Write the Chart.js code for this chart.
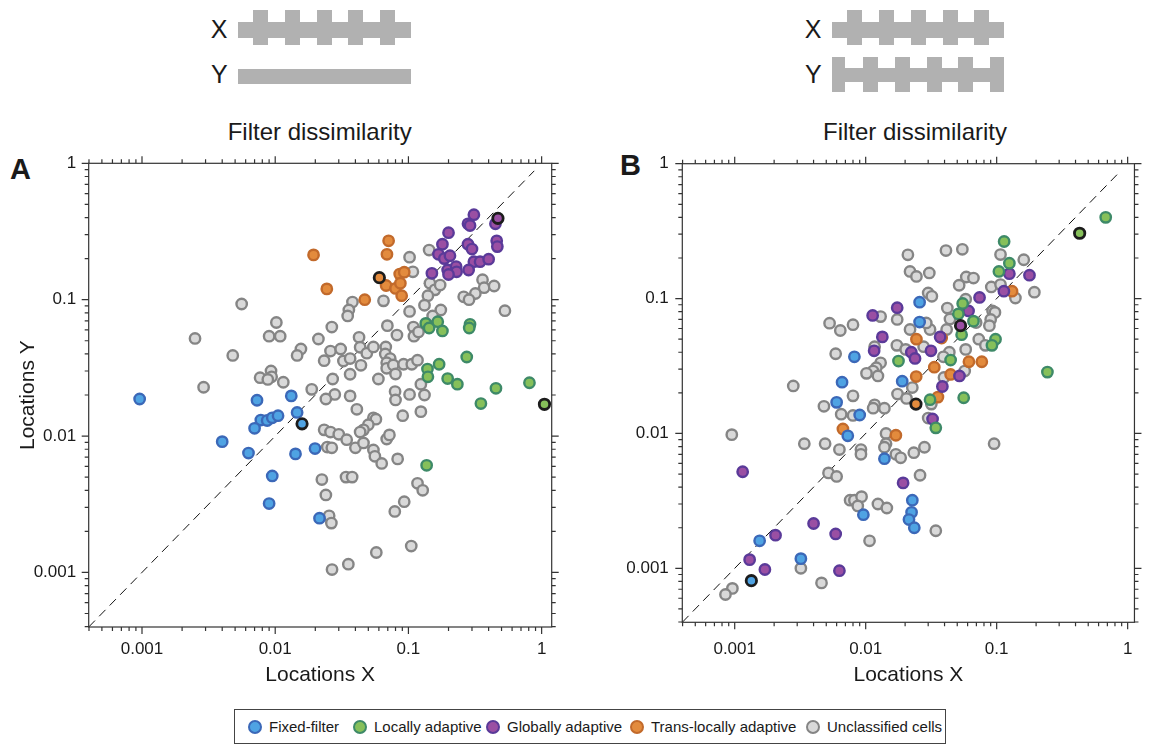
<!DOCTYPE html>
<html><head><meta charset="utf-8">
<script src="https://cdn.jsdelivr.net/npm/chart.js@4.4.1/dist/chart.umd.min.js"></script>
<style>
html,body{margin:0;padding:0;background:#fff;}
body{width:1149px;height:745px;position:relative;overflow:hidden;font-family:"Liberation Sans",Arial,Helvetica,sans-serif;color:#1a1a1a;}
.g{position:absolute;background:#b1b1b1;}
.lbl{position:absolute;font-size:25px;line-height:25px;}
.ttl{position:absolute;font-size:24px;line-height:24px;white-space:nowrap;transform:translateX(-50%);}
.pan{position:absolute;font-size:29px;line-height:29px;font-weight:bold;}
canvas{position:absolute;}
#legend{position:absolute;left:234px;top:709px;width:712px;height:35px;border:1px solid #444;box-sizing:border-box;}
.li{position:absolute;top:0;height:33px;display:flex;align-items:center;font-size:15px;white-space:nowrap;color:#1a1a1a;}
.dot{width:10px;height:10px;border-radius:50%;border:2px solid;margin-right:7px;}
</style></head>
<body>
<!-- schematic A -->
<div class="lbl" style="left:210.7px;top:17.3px;">X</div>
<div class="g" style="left:238px;top:22px;width:173px;height:15.5px;"></div>
<div class="g" style="left:253.3px;top:10px;width:15px;height:35px;"></div>
<div class="g" style="left:285px;top:10px;width:15px;height:35px;"></div>
<div class="g" style="left:316.7px;top:10px;width:15px;height:35px;"></div>
<div class="g" style="left:348.3px;top:10px;width:15px;height:35px;"></div>
<div class="g" style="left:380px;top:10px;width:15px;height:35px;"></div>
<div class="lbl" style="left:211px;top:62.1px;">Y</div>
<div class="g" style="left:238px;top:69px;width:173px;height:14.5px;"></div>
<div class="ttl" style="left:319.7px;top:120.2px;">Filter dissimilarity</div>
<div class="pan" style="left:10px;top:154.5px;">A</div>
<!-- schematic B -->
<div class="lbl" style="left:804.7px;top:17.3px;">X</div>
<div class="g" style="left:831.7px;top:22px;width:172.6px;height:15.5px;"></div>
<div class="g" style="left:847.3px;top:9.5px;width:15px;height:35px;"></div>
<div class="g" style="left:879.3px;top:9.5px;width:15px;height:35px;"></div>
<div class="g" style="left:911px;top:9.5px;width:15px;height:35px;"></div>
<div class="g" style="left:942.7px;top:9.5px;width:15px;height:35px;"></div>
<div class="g" style="left:974.3px;top:9.5px;width:15px;height:35px;"></div>
<div class="lbl" style="left:805px;top:62.1px;">Y</div>
<div class="g" style="left:831.7px;top:67.7px;width:172.6px;height:14px;"></div>
<div class="g" style="left:831.7px;top:57.3px;width:13.5px;height:35px;"></div>
<div class="g" style="left:862.7px;top:57.3px;width:15px;height:35px;"></div>
<div class="g" style="left:895px;top:57.3px;width:15px;height:35px;"></div>
<div class="g" style="left:926.7px;top:57.3px;width:15px;height:35px;"></div>
<div class="g" style="left:958.3px;top:57.3px;width:15px;height:35px;"></div>
<div class="g" style="left:990px;top:57.3px;width:14.3px;height:35px;"></div>
<div class="ttl" style="left:915px;top:120.2px;">Filter dissimilarity</div>
<div class="pan" style="left:620px;top:151px;">B</div>

<canvas id="chartA" width="580" height="560" style="left:0px;top:140px;width:580px;height:560px;"></canvas>
<canvas id="chartB" width="559" height="560" style="left:590px;top:140px;width:559px;height:560px;"></canvas>
<div id="legend"></div>

<script>
// ---------- categories & styles ----------
const categories = ['Fixed-filter', 'Locally adaptive', 'Globally adaptive', 'Trans-locally adaptive', 'Unclassified cells'];
const fillColors = ['#4fa3e3', '#86c05a', '#9a4fa3', '#e38b3d', '#d9d9d9'];
const edgeColors = ['#3b68b8', '#3e8a68', '#5a3a99', '#c26a2b', '#858585'];

// ---------- tick labels ----------
const xTickValues = [0.001, 0.01, 0.1, 1];
const xTickLabels = ['0.001', '0.01', '0.1', '1'];
const yTickValues = [0.001, 0.01, 0.1, 1];
const yTickLabels = ['0.001', '0.01', '0.1', '1'];

// ---------- panel A data [Locations X, Locations Y] ----------
const A_fixed = [[0.00096,0.0187],[0.0073,0.0183],[0.0132,0.0197],[0.0146,0.0149],[0.0078,0.0131],[0.0087,0.013],[0.0095,0.0136],[0.0105,0.0141],[0.007,0.0114],[0.0040,0.0091],[0.0063,0.0075],[0.0142,0.0074],[0.0199,0.0081],[0.0095,0.0051],[0.009,0.0032],[0.0215,0.0025]];
const A_local = [[0.135,0.067],[0.143,0.062],[0.166,0.069],[0.18,0.059],[0.29,0.066],[0.286,0.062],[0.274,0.038],[0.17,0.0336],[0.139,0.031],[0.14,0.0272],[0.197,0.0264],[0.233,0.024],[0.454,0.0224],[0.81,0.0246],[0.35,0.0173],[0.137,0.0061]];
const A_global = [[0.31,0.42],[0.28,0.36],[0.29,0.35],[0.45,0.36],[0.20,0.31],[0.18,0.255],[0.28,0.255],[0.30,0.235],[0.46,0.27],[0.465,0.245],[0.168,0.215],[0.186,0.20],[0.205,0.21],[0.31,0.19],[0.345,0.19],[0.40,0.198],[0.197,0.165],[0.228,0.175],[0.23,0.16],[0.20,0.153],[0.283,0.165],[0.15,0.156]];
const A_trans = [[0.0194,0.213],[0.071,0.27],[0.069,0.215],[0.0244,0.12],[0.086,0.154],[0.093,0.159],[0.068,0.127],[0.08,0.121],[0.087,0.132],[0.089,0.107],[0.047,0.10]];
const A_unclassified = [[0.0056,0.093],[0.0025,0.052],[0.0048,0.039],[0.0102,0.068],[0.009,0.054],[0.0109,0.054],[0.0156,0.0435],[0.0146,0.039],[0.0211,0.0515],[0.0077,0.0268],[0.0093,0.030],[0.0094,0.0272],[0.0088,0.026],[0.0115,0.0248],[0.0029,0.0228],[0.0188,0.022],
[0.102,0.205],[0.143,0.231],[0.108,0.16],[0.145,0.132],[0.158,0.118],[0.173,0.128],[0.14,0.107],[0.132,0.091],[0.175,0.084],[0.152,0.076],[0.36,0.14],[0.37,0.1225],[0.44,0.126],[0.318,0.111],[0.26,0.105],[0.285,0.10],[0.53,0.083],[0.065,0.098],[0.102,0.082],[0.038,0.096],[0.0357,0.084],[0.035,0.076],[0.0266,0.063],
[0.0426,0.053],[0.0434,0.0448],[0.0487,0.0405],[0.0546,0.045],[0.0695,0.0645],[0.082,0.055],[0.109,0.063],[0.110,0.054],[0.119,0.058],[0.026,0.042],[0.031,0.0435],[0.0233,0.0357],[0.0325,0.0355],[0.0365,0.037],[0.044,0.033],[0.0365,0.0284],[0.027,0.0262],[0.0595,0.0262],[0.0676,0.045],[0.067,0.040],[0.073,0.037],[0.0687,0.0345],[0.0687,0.0314],[0.077,0.0332],[0.080,0.0285],[0.092,0.0336],[0.106,0.0336],[0.117,0.036],[0.124,0.024],[0.132,0.020],[0.102,0.0202],[0.0794,0.0212],[0.080,0.0184],[0.028,0.0202],[0.024,0.0187],[0.0365,0.0197],[0.041,0.0157],[0.0906,0.0141],[0.124,0.0151],[0.0546,0.0136],[0.057,0.0133],[0.050,0.0121],[0.046,0.0111],[0.0434,0.0107],[0.0233,0.0111],[0.026,0.0107],[0.030,0.0103],[0.0344,0.0094],[0.040,0.0082],[0.046,0.0089],[0.0246,0.0083],[0.0266,0.0082],[0.0546,0.0079],[0.056,0.0071],[0.063,0.0063],[0.0687,0.0095],[0.072,0.0102],[0.083,0.0068],[0.0224,0.0048],[0.024,0.0037],[0.034,0.0050],[0.0378,0.0050],[0.117,0.0045],[0.128,0.0040],[0.093,0.0033],[0.079,0.0028],[0.0254,0.0026],[0.0264,0.0023],[0.0574,0.0014],[0.105,0.00156],[0.0354,0.00115],[0.0267,0.00105]];
// highlighted example cells: [x, y, category index]
const A_examples = [[0.0159,0.0123,0],[1.05,0.0171,1],[0.47,0.395,2],[0.0605,0.145,3]];

// ---------- panel B data ----------
const B_fixed = [[0.0258,0.094],[0.0258,0.067],[0.0082,0.037],[0.0066,0.024],[0.019,0.0244],[0.006,0.017],[0.009,0.0137],[0.0073,0.0096],[0.0139,0.0065],[0.0227,0.0032],[0.0224,0.0026],[0.0214,0.0023],[0.0235,0.0020],[0.0096,0.0025],[0.00155,0.0016],[0.0032,0.00118]];
const B_local = [[0.68,0.40],[0.114,0.265],[0.125,0.183],[0.104,0.159],[0.055,0.092],[0.051,0.077],[0.0665,0.068],[0.054,0.054],[0.098,0.050],[0.092,0.045],[0.0445,0.035],[0.0178,0.0344],[0.244,0.0285],[0.056,0.0184],[0.031,0.0178],[0.0343,0.011]];
const B_global = [[0.125,0.153],[0.178,0.149],[0.1135,0.1135],[0.074,0.102],[0.061,0.081],[0.0174,0.0856],[0.0113,0.075],[0.0134,0.052],[0.037,0.052],[0.0116,0.041],[0.0223,0.040],[0.0238,0.036],[0.0315,0.041],[0.052,0.0267],[0.0385,0.0223],[0.0324,0.0128],[0.00115,0.0052],[0.0193,0.0043],[0.0040,0.00215],[0.0059,0.0018],[0.00205,0.00176],[0.0013,0.00116],[0.0017,0.00098],[0.0063,0.00096]];
const B_trans = [[0.131,0.1135],[0.0244,0.050],[0.038,0.051],[0.0614,0.034],[0.077,0.034],[0.0334,0.031],[0.0243,0.0264],[0.0445,0.0274],[0.0356,0.0186],[0.0067,0.0108],[0.017,0.0097]];
const B_unclassified = [[0.021,0.211],[0.041,0.227],[0.0547,0.232],[0.107,0.212],[0.161,0.194],[0.0218,0.159],[0.0244,0.146],[0.0306,0.155],[0.0586,0.1445],[0.0665,0.142],[0.0517,0.1255],[0.091,0.122],[0.107,0.127],[0.139,0.101],[0.194,0.1115],[0.030,0.110],[0.032,0.104],[0.058,0.099],[0.042,0.085],[0.044,0.0706],[0.093,0.081],[0.097,0.079],[0.090,0.070],[0.088,0.063],[0.0697,0.0664],[0.013,0.0735],[0.0174,0.070],[0.0053,0.0657],[0.0064,0.058],[0.008,0.064],[0.0218,0.059],[0.031,0.059],[0.029,0.066],[0.0415,0.059],[0.073,0.050],[0.082,0.045],[0.058,0.042],[0.0173,0.045],[0.0117,0.044],[0.0202,0.042],[0.0277,0.044],[0.0435,0.040],[0.0059,0.039],[0.013,0.0334],[0.01205,0.0307],[0.01138,0.029],[0.01014,0.0279],[0.0124,0.0267],[0.0392,0.037],[0.057,0.029],[0.0396,0.026],[0.0028,0.0225],[0.0080,0.019],[0.0175,0.0196],[0.0205,0.0182],[0.0227,0.0219],[0.0317,0.0165],[0.0048,0.0159],[0.0065,0.0139],[0.008,0.0136],[0.0117,0.0163],[0.0114,0.0154],[0.0139,0.0154],[0.030,0.013],[0.00095,0.0098],[0.0034,0.0084],[0.0049,0.0084],[0.0956,0.0084],[0.0143,0.0100],[0.0063,0.0076],[0.0092,0.0076],[0.0092,0.0070],[0.0143,0.0084],[0.0139,0.0079],[0.017,0.0070],[0.0185,0.0066],[0.0233,0.0072],[0.0281,0.0079],[0.0052,0.0051],[0.0060,0.0048],[0.026,0.0049],[0.0076,0.0032],[0.0082,0.0032],[0.0093,0.0034],[0.0087,0.0029],[0.0124,0.0030],[0.0145,0.0028],[0.0343,0.0019],[0.0107,0.0016],[0.0032,0.0010],[0.0046,0.00078],[0.00096,0.00071],[0.00085,0.00064]];
const B_examples = [[0.00134,0.00081,0],[0.43,0.305,1],[0.053,0.063,2],[0.0242,0.0165,3]];

// ---------- axis ranges & identity line ----------
const A_xRange = [0.000398, 1.19];
const A_yRange = [0.000398, 1];
const B_xRange = [0.000398, 1.127];
const B_yRange = [0.000398, 1];
const A_diagonal = [[0.000398,0.000398],[0.88,0.88]];
const B_diagonal = [[0.000398,0.000398],[0.87,0.87]];

Chart.defaults.font.family = '"Liberation Sans", Arial, Helvetica, sans-serif';
Chart.defaults.color = '#1a1a1a';

const frameTicks = {
  id: 'frameTicks',
  afterDraw(chart) {
    const {ctx, chartArea: a, scales: {x, y}} = chart;
    ctx.save();
    ctx.strokeStyle = '#333';
    ctx.lineWidth = 1.2;
    ctx.strokeRect(a.left, a.top, a.right - a.left, a.bottom - a.top);
    ctx.beginPath();
    for (let e = -4; e <= 0; e++) {
      for (let m = 1; m <= 9; m++) {
        const v = m * Math.pow(10, e);
        const L = m === 1 ? 7 : 4;
        if (v >= x.min * 0.999 && v <= x.max * 1.0001) {
          const p = x.getPixelForValue(v);
          ctx.moveTo(p, a.top); ctx.lineTo(p, a.top - L);
          ctx.moveTo(p, a.bottom); ctx.lineTo(p, a.bottom + L);
        }
        if (v >= y.min * 0.999 && v <= y.max * 1.0001) {
          const p = y.getPixelForValue(v);
          ctx.moveTo(a.left, p); ctx.lineTo(a.left - L, p);
          ctx.moveTo(a.right, p); ctx.lineTo(a.right + L, p);
        }
      }
    }
    ctx.stroke();
    ctx.restore();
  }
};

function toPts(arr) { return arr.map(p => ({x: p[0], y: p[1]})); }

function buildDatasets(series, examples, diagonal) {
  const ds = [];
  ds.push({
    label: 'Example cells', data: toPts(examples),
    pointBackgroundColor: examples.map(p => fillColors[p[2]]),
    pointBorderColor: '#1c1c1c', pointBorderWidth: 2.8, pointRadius: 5.2, order: 0, clip: false
  });
  series.forEach((s, i) => {
    ds.push({
      label: categories[i], data: toPts(s),
      pointBackgroundColor: fillColors[i], pointBorderColor: edgeColors[i],
      pointBorderWidth: 2.4, pointRadius: 5.2, order: i + 1, clip: false
    });
  });
  ds.push({
    label: 'identity', data: toPts(diagonal), showLine: true,
    borderColor: '#111', borderWidth: 1, borderDash: [9, 6],
    pointRadius: 0, order: 10, fill: false, clip: false
  });
  return ds;
}

function makePanel(id, series, examples, diagonal, g) {
  return new Chart(document.getElementById(id), {
    type: 'scatter',
    data: {datasets: buildDatasets(series, examples, diagonal)},
    plugins: [frameTicks],
    options: {
      responsive: false, animation: false, events: [],
      layout: {padding: {left: 0, top: g.padTop, right: g.padRight, bottom: 0}},
      plugins: {legend: {display: false}, tooltip: {enabled: false}, title: {display: false}},
      scales: {
        x: {
          type: 'logarithmic', position: 'bottom', min: g.xRange[0], max: g.xRange[1],
          grid: {display: false, drawTicks: false}, border: {display: false},
          afterBuildTicks: s => { s.ticks = xTickValues.map(v => ({value: v})); },
          afterFit: s => { s.height = g.xH; },
          ticks: {autoSkip: false, maxRotation: 0, minRotation: 0, padding: g.xPad, color: '#1a1a1a',
                  font: {size: 17}, callback: (v, i) => xTickLabels[i]},
          title: {display: true, text: 'Locations X', color: '#1a1a1a', font: {size: 21},
                  padding: {top: 0, bottom: 12.4}}
        },
        y: {
          type: 'logarithmic', position: 'left', min: g.yRange[0], max: g.yRange[1],
          grid: {display: false, drawTicks: false}, border: {display: false},
          afterBuildTicks: s => { s.ticks = yTickValues.map(v => ({value: v})); },
          afterFit: s => { s.width = g.yW; },
          ticks: {autoSkip: false, padding: g.yPad, color: '#1a1a1a', font: {size: 17},
                  callback: (v, i) => yTickLabels[i]},
          title: {display: g.yTitle, text: 'Locations Y', color: '#1a1a1a', font: {size: 21},
                  padding: {top: 15.4, bottom: 0}}
        }
      }
    }
  });
}

makePanel('chartA', [A_fixed, A_local, A_global, A_trans, A_unclassified], A_examples, A_diagonal,
  {padTop: 23.3, padRight: 28.3, xH: 73, yW: 88.7, xPad: 12, yPad: 12.5, xRange: A_xRange, yRange: A_yRange, yTitle: true});
makePanel('chartB', [B_fixed, B_local, B_global, B_trans, B_unclassified], B_examples, B_diagonal,
  {padTop: 18.5, padRight: 6.2, xH: 77.7, yW: 92.3, xPad: 16.5, yPad: 13.5, xRange: B_xRange, yRange: B_yRange, yTitle: false});

// ---------- shared legend ----------
const legendLeft = [13, 118, 251, 395, 571];
const legend = document.getElementById('legend');
categories.forEach((name, i) => {
  const item = document.createElement('div');
  item.className = 'li';
  item.style.left = legendLeft[i] + 'px';
  const dot = document.createElement('span');
  dot.className = 'dot';
  dot.style.background = fillColors[i];
  dot.style.borderColor = edgeColors[i];
  const txt = document.createElement('span');
  txt.textContent = name;
  item.appendChild(dot); item.appendChild(txt);
  legend.appendChild(item);
});
</script>
</body></html>
